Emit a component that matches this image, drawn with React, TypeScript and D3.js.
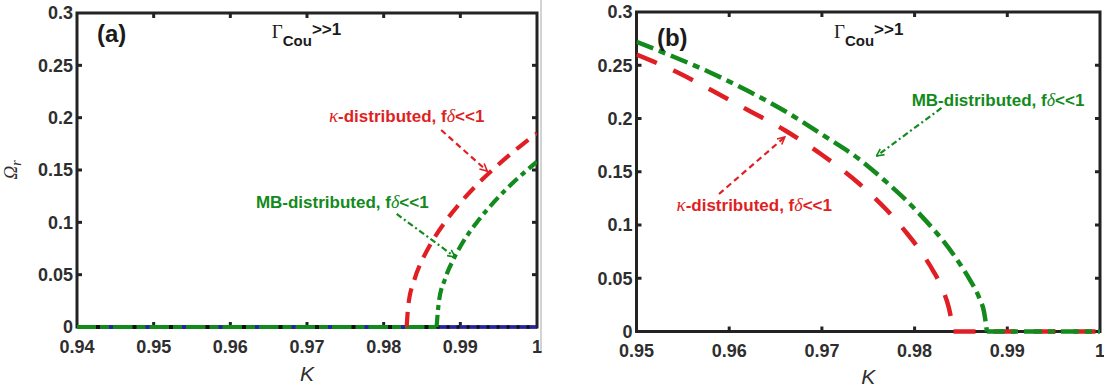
import React from "react";
import * as d3 from "d3";

// ---- axis ticks ----
const kTicksA = [0.94, 0.95, 0.96, 0.97, 0.98, 0.99, 1];
const kTickLabelsA = ["0.94", "0.95", "0.96", "0.97", "0.98", "0.99", "1"];
const kTicksB = [0.95, 0.96, 0.97, 0.98, 0.99, 1];
const kTickLabelsB = ["0.95", "0.96", "0.97", "0.98", "0.99", "1"];
const omegaTicks = [0, 0.05, 0.1, 0.15, 0.2, 0.25, 0.3];
const omegaTickLabels = ["0", "0.05", "0.1", "0.15", "0.2", "0.25", "0.3"];

// ---- panel (a): growth rate vs K ----
const kappaA_K = [0.983, 0.9832, 0.984, 0.985, 0.986, 0.988, 0.99, 0.992, 0.994, 0.996, 0.998, 1.0];
const kappaA_W = [0, 0.02, 0.045, 0.0635, 0.0777, 0.1003, 0.1187, 0.1347, 0.1488, 0.1618, 0.1738, 0.185];
const mbA_K = [0.9869, 0.9872, 0.988, 0.989, 0.99, 0.992, 0.994, 0.996, 0.998, 1.0];
const mbA_W = [0, 0.0239, 0.0458, 0.0632, 0.0769, 0.0985, 0.1163, 0.1317, 0.1454, 0.158];
const mbZeroA_K = [0.94, 0.9869];
const stableZeroA_K = [0.9869, 1.0];
const dottedZeroA_K = [0.94, 0.9869];

// ---- panel (b): growth rate vs K ----
const kappaB_K = [0.95, 0.954, 0.958, 0.962, 0.966, 0.97, 0.974, 0.977, 0.979, 0.981, 0.982, 0.983, 0.9837, 0.9842];
const kappaB_W = [0.26, 0.245, 0.227, 0.208, 0.189, 0.166, 0.139, 0.114, 0.094, 0.071, 0.057, 0.04, 0.022, 0];
const mbB_K = [0.95, 0.954, 0.958, 0.962, 0.966, 0.97, 0.974, 0.977, 0.979, 0.981, 0.983, 0.985, 0.986, 0.987, 0.9875, 0.9878];
const mbB_W = [0.272, 0.258, 0.243, 0.226, 0.207, 0.185, 0.162, 0.14, 0.124, 0.106, 0.086, 0.062, 0.048, 0.031, 0.018, 0];
const kappaZeroB_K = [0.9842, 1.0];
const mbZeroB_K = [0.9878, 1.0];

const RED = "#e01f24";
const GREEN = "#138a1c";
const BLUE = "#2424a8";
const AXIS = "#232323";
const LABEL = "#2e2e2e";
const SANS = "'Liberation Sans', Arial, Helvetica, sans-serif";
const SERIF = "'Liberation Serif', 'Times New Roman', serif";

type Pt = [number, number];
const zip = (ks: number[], ws: number[]): Pt[] => ks.map((k, i) => [k, ws[i]]);
const zeros = (ks: number[]): Pt[] => ks.map((k) => [k, 0]);

type Line = { pts: Pt[]; color: string; width: number; dash?: string; offset?: number };
type Note = {
  text: "kappa" | "mb";
  color: string;
  at: Pt;
  from: Pt;
  to: Pt;
  dash: string;
};

type PanelCfg = {
  id: string;
  tag: string;
  left: number;
  right: number;
  top: number;
  bottom: number;
  domain: [number, number];
  kTicks: number[];
  kLabels: string[];
  tickBaseline: number;
  kBaseline: number;
  tagAt: Pt;
  gammaAt: Pt;
  lines: Line[];
  notes: Note[];
  yTitle: boolean;
};

const panels: PanelCfg[] = [
  {
    id: "a",
    tag: "(a)",
    left: 77,
    right: 537,
    top: 13,
    bottom: 327,
    domain: [0.94, 1],
    kTicks: kTicksA,
    kLabels: kTickLabelsA,
    tickBaseline: 353,
    kBaseline: 381,
    tagAt: [0.9426, 0.2723],
    gammaAt: [0.9654, 0.2761],
    lines: [
      { pts: zeros(mbZeroA_K), color: GREEN, width: 4 },
      { pts: zeros(stableZeroA_K), color: BLUE, width: 3.5 },
      { pts: zeros(stableZeroA_K), color: "#111", width: 3.5, dash: "3 7" },
      { pts: zeros(dottedZeroA_K), color: "#111", width: 4, dash: "4 32.5", offset: -19 },
      { pts: zeros(dottedZeroA_K), color: BLUE, width: 4, dash: "4 32.5", offset: -32 },
      { pts: zip(kappaA_K, kappaA_W), color: RED, width: 4.2, dash: "15 9" },
      { pts: zip(mbA_K, mbA_W), color: GREEN, width: 4.2, dash: "12 5 5 5" },
    ],
    notes: [
      { text: "kappa", color: RED, at: [0.983, 0.196], from: [0.9875, 0.1882], to: [0.9935, 0.149], dash: "6 4" },
      { text: "mb", color: GREEN, at: [0.9746, 0.1137], from: [0.9817, 0.108], to: [0.9893, 0.0669], dash: "6 3 2 3" },
    ],
    yTitle: true,
  },
  {
    id: "b",
    tag: "(b)",
    left: 636.5,
    right: 1100,
    top: 12,
    bottom: 331.5,
    domain: [0.95, 1],
    kTicks: kTicksB,
    kLabels: kTickLabelsB,
    tickBaseline: 357,
    kBaseline: 384,
    tagAt: [0.9522, 0.2681],
    gammaAt: [0.9713, 0.2756],
    lines: [
      { pts: zeros(kappaZeroB_K), color: RED, width: 4.5, dash: "22 18" },
      { pts: zeros(mbZeroB_K), color: GREEN, width: 4.5, dash: "18 6 7 6" },
      { pts: zip(kappaB_K, kappaB_W), color: RED, width: 4.5, dash: "22 18" },
      { pts: zip(mbB_K, mbB_W), color: GREEN, width: 4.5, dash: "18 6 7 6" },
    ],
    notes: [
      { text: "mb", color: GREEN, at: [0.989, 0.2117], from: [0.9829, 0.2099], to: [0.9759, 0.1648], dash: "6 3 2 3" },
      { text: "kappa", color: RED, at: [0.9627, 0.1131], from: [0.9589, 0.1291], to: [0.966, 0.1826], dash: "6 4" },
    ],
    yTitle: false,
  },
];

function NoteText({ note, x, y }: { note: Note; x: number; y: number }) {
  const style = { fontFamily: SANS, fontWeight: 700, fontSize: 17 };
  if (note.text === "kappa") {
    return (
      <text x={x} y={y} textAnchor="middle" fill={note.color} style={style}>
        <tspan fontFamily={SERIF} fontStyle="italic" fontWeight={400} fontSize={19}>κ</tspan>
        <tspan>-distributed, f</tspan>
        <tspan fontFamily={SERIF} fontStyle="italic" fontWeight={400} fontSize={18}>δ</tspan>
        <tspan>{"<<1"}</tspan>
      </text>
    );
  }
  return (
    <text x={x} y={y} textAnchor="middle" fill={note.color} style={style}>
      <tspan>MB-distributed, f</tspan>
      <tspan fontFamily={SERIF} fontStyle="italic" fontWeight={400} fontSize={18}>δ</tspan>
      <tspan>{"<<1"}</tspan>
    </text>
  );
}

function Panel({ cfg }: { cfg: PanelCfg }) {
  const x = d3.scaleLinear().domain(cfg.domain).range([cfg.left, cfg.right]);
  const y = d3.scaleLinear().domain([0, 0.3]).range([cfg.bottom, cfg.top]);
  const line = d3
    .line<Pt>()
    .x((d) => x(d[0]))
    .y((d) => y(d[1]))
    .curve(d3.curveMonotoneX);
  const tl = 5;
  const kMid = (cfg.domain[0] + cfg.domain[1]) / 2;

  return (
    <g>
      <defs>
        {[RED, GREEN].map((c, i) => (
          <marker
            key={i}
            id={`head-${cfg.id}-${i}`}
            viewBox="0 0 10 10"
            refX="9"
            refY="5"
            markerWidth="9"
            markerHeight="9"
            markerUnits="userSpaceOnUse"
            orient="auto"
          >
            <path d="M1,1 L9,5 L1,9" fill="none" stroke={c} strokeWidth={1.8} strokeDasharray="none" />
          </marker>
        ))}
        <clipPath id={`clip-${cfg.id}`}>
          <rect x={cfg.left} y={cfg.top - 3} width={cfg.right - cfg.left} height={cfg.bottom - cfg.top + 6} />
        </clipPath>
      </defs>

      {/* box and inward ticks */}
      <rect
        x={cfg.left}
        y={cfg.top}
        width={cfg.right - cfg.left}
        height={cfg.bottom - cfg.top}
        fill="none"
        stroke={AXIS}
        strokeWidth={3}
      />
      {cfg.kTicks.slice(1, -1).map((k) => (
        <g key={`kt${k}`} stroke={AXIS} strokeWidth={3}>
          <line x1={x(k)} x2={x(k)} y1={cfg.bottom} y2={cfg.bottom - tl} />
          <line x1={x(k)} x2={x(k)} y1={cfg.top} y2={cfg.top + tl} />
        </g>
      ))}
      {omegaTicks.slice(1, -1).map((w) => (
        <g key={`wt${w}`} stroke={AXIS} strokeWidth={3}>
          <line x1={cfg.left} x2={cfg.left + tl} y1={y(w)} y2={y(w)} />
          <line x1={cfg.right} x2={cfg.right - tl} y1={y(w)} y2={y(w)} />
        </g>
      ))}

      {/* curves, drawn over the axis so the zero branches stay visible */}
      <g clipPath={`url(#clip-${cfg.id})`}>
        {cfg.lines.map((l, i) => (
          <path
            key={i}
            d={line(l.pts) || ""}
            fill="none"
            stroke={l.color}
            strokeWidth={l.width}
            strokeDasharray={l.dash}
            strokeDashoffset={l.offset}
          />
        ))}
      </g>

      {/* tick labels */}
      {cfg.kTicks.map((k, i) => (
        <text
          key={`kl${k}`}
          x={x(k)}
          y={cfg.tickBaseline}
          textAnchor="middle"
          fill={LABEL}
          style={{ fontFamily: SANS, fontWeight: 700, fontSize: 18 }}
        >
          {cfg.kLabels[i]}
        </text>
      ))}
      {omegaTicks.map((w, i) => (
        <text
          key={`wl${w}`}
          x={cfg.left - 4}
          y={y(w)}
          dy="0.36em"
          textAnchor="end"
          fill={LABEL}
          style={{ fontFamily: SANS, fontWeight: 700, fontSize: 18 }}
        >
          {omegaTickLabels[i]}
        </text>
      ))}

      {/* axis titles */}
      <text
        x={x(kMid)}
        y={cfg.kBaseline}
        textAnchor="middle"
        fill={LABEL}
        style={{ fontFamily: SANS, fontStyle: "italic", fontSize: 21 }}
      >
        K
      </text>
      {cfg.yTitle && (
        <text
          transform={`translate(17, ${(cfg.top + cfg.bottom) / 2}) rotate(-90)`}
          textAnchor="middle"
          fill={LABEL}
          style={{ fontFamily: SERIF, fontStyle: "italic", fontSize: 19 }}
        >
          Ω<tspan fontSize={14} dy={4}>r</tspan>
        </text>
      )}

      {/* panel tag */}
      <text
        x={x(cfg.tagAt[0])}
        y={y(cfg.tagAt[1])}
        fill="#1b1b1b"
        style={{ fontFamily: SANS, fontWeight: 700, fontSize: 24 }}
      >
        {cfg.tag}
      </text>

      {/* Coulomb coupling regime */}
      <text x={x(cfg.gammaAt[0])} y={y(cfg.gammaAt[1])} fill="#1b1b1b">
        <tspan style={{ fontFamily: SERIF, fontSize: 19 }}>Γ</tspan>
        <tspan dy={8} style={{ fontFamily: SANS, fontWeight: 700, fontSize: 15 }}>Cou</tspan>
        <tspan dy={-11} style={{ fontFamily: SANS, fontWeight: 700, fontSize: 17 }}>{">>1"}</tspan>
      </text>

      {/* annotations */}
      {cfg.notes.map((n, i) => (
        <g key={`n${i}`}>
          <NoteText note={n} x={x(n.at[0])} y={y(n.at[1])} />
          <line
            x1={x(n.from[0])}
            y1={y(n.from[1])}
            x2={x(n.to[0])}
            y2={y(n.to[1])}
            stroke={n.color}
            strokeWidth={2.2}
            strokeDasharray={n.dash}
            markerEnd={`url(#head-${cfg.id}-${n.color === RED ? 0 : 1})`}
          />
        </g>
      ))}
    </g>
  );
}

export default function App() {
  return (
    <svg
      width={1104}
      height={387}
      viewBox="0 0 1104 387"
      style={{ position: "absolute", left: 0, top: 0, background: "#fff" }}
    >
      <rect width={1104} height={387} fill="#fff" />
      <line x1={541} x2={541} y1={0} y2={352} stroke="#c4c4c4" strokeWidth={1.5} />
      {panels.map((p) => (
        <Panel key={p.id} cfg={p} />
      ))}
    </svg>
  );
}
